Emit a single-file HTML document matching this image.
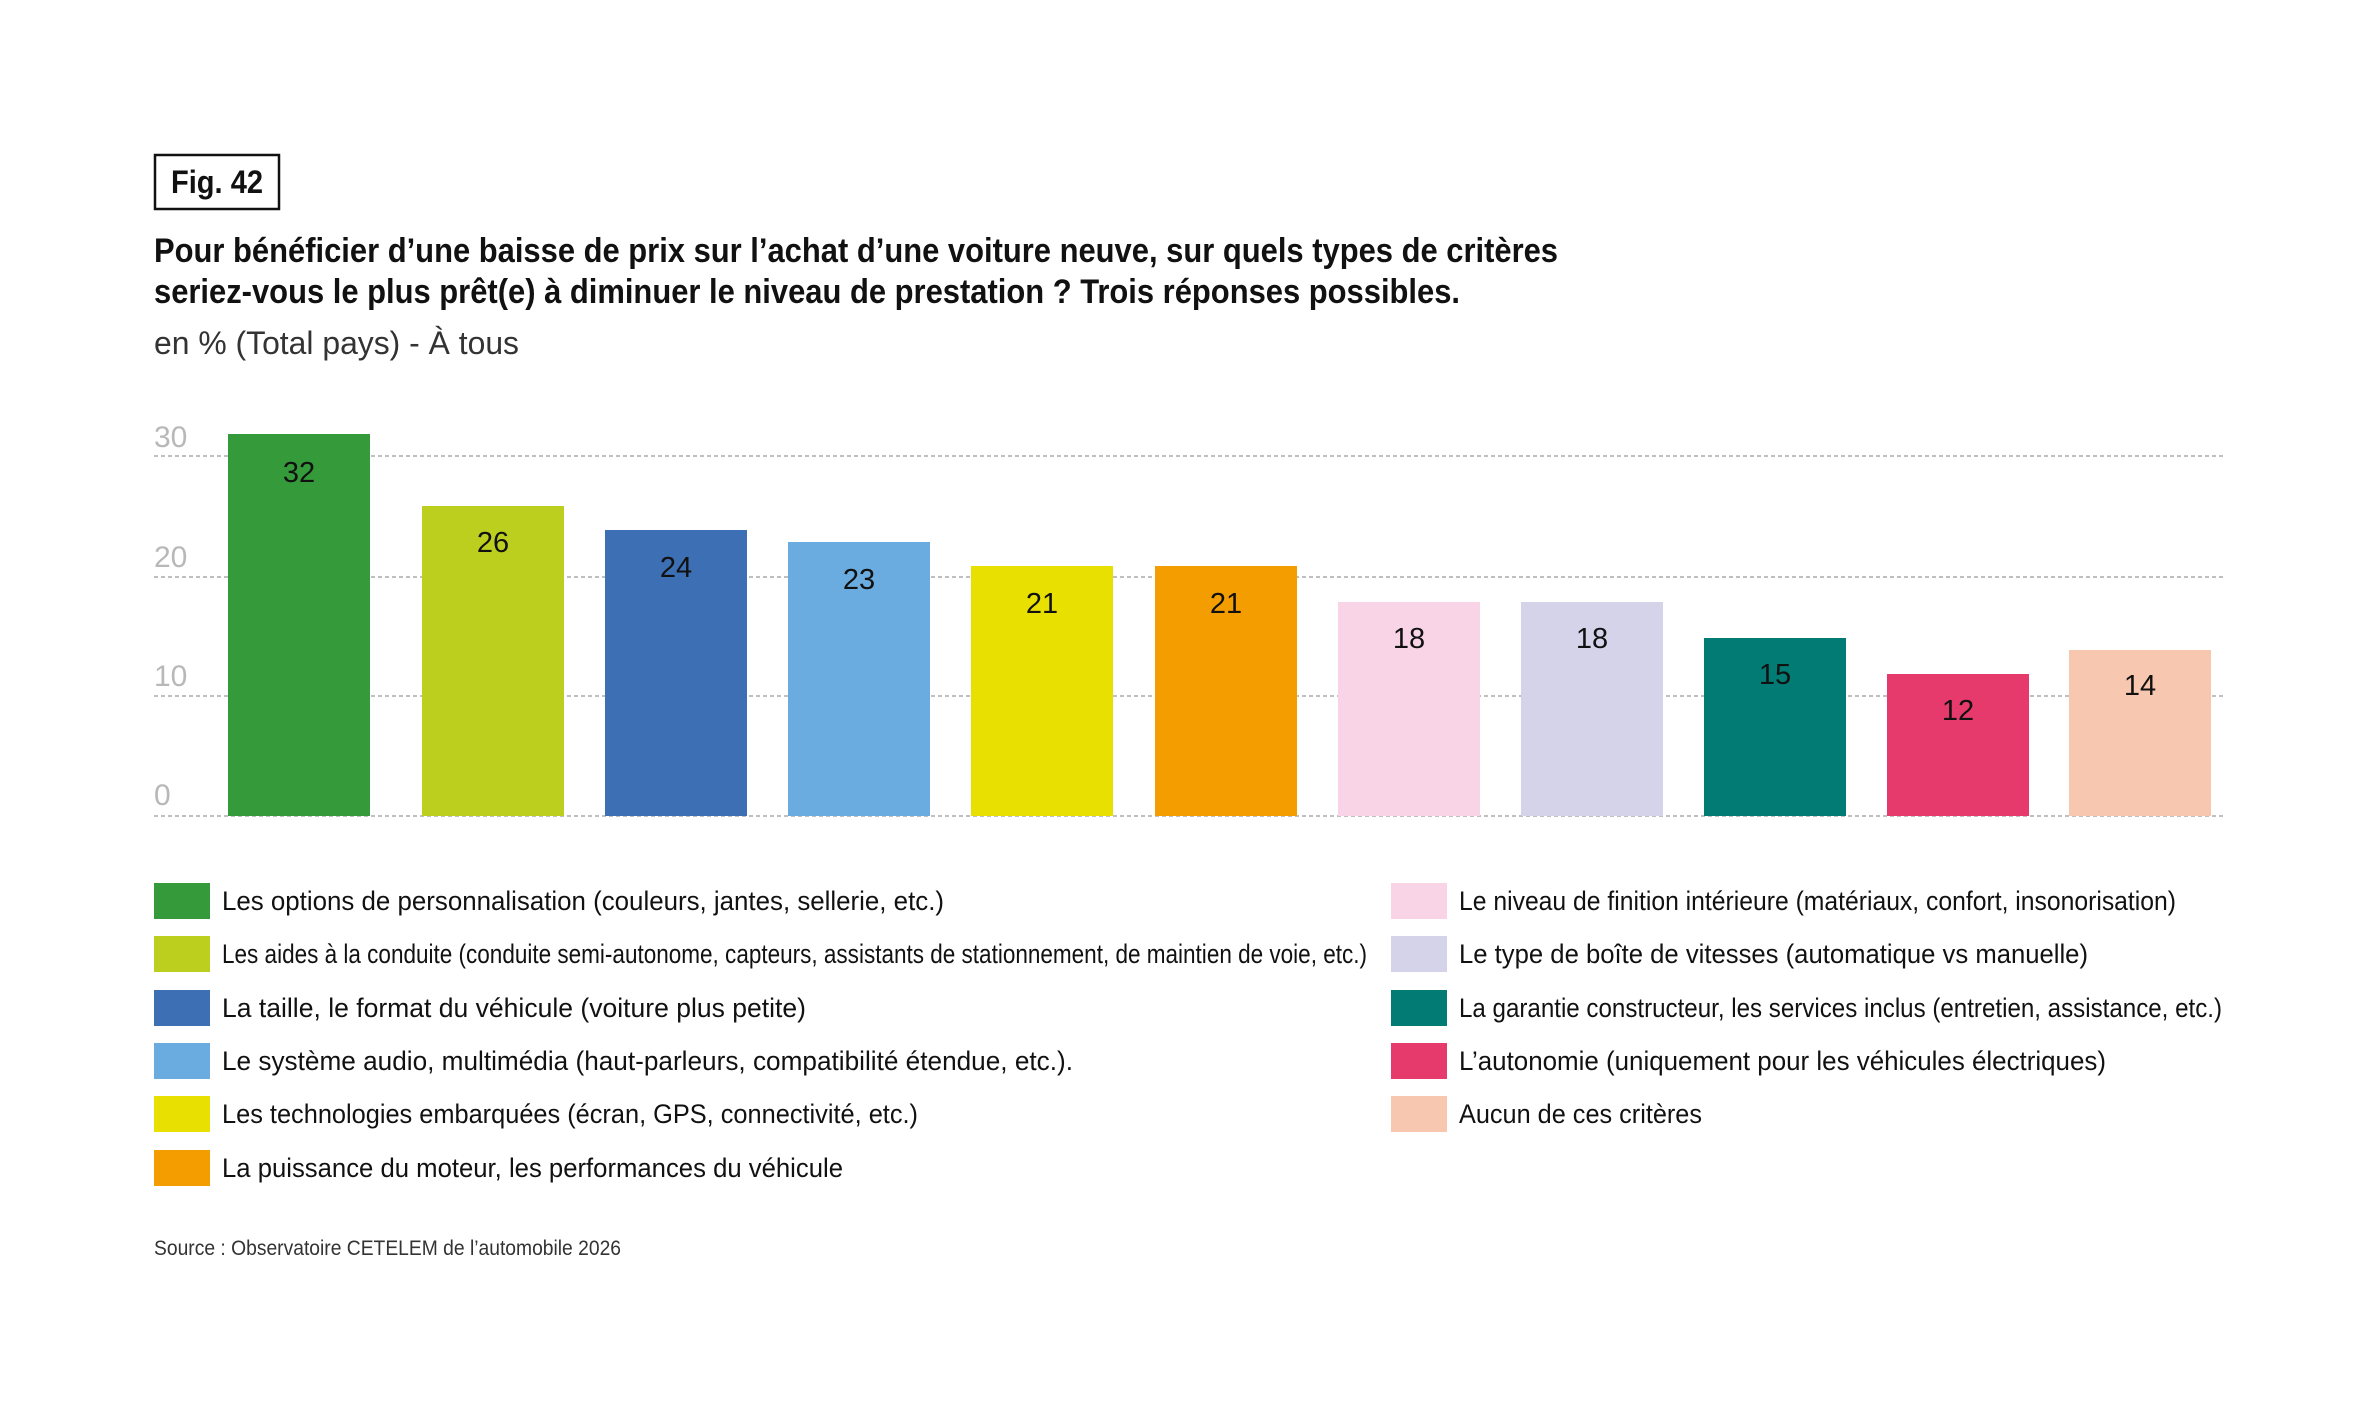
<!DOCTYPE html>
<html><head><meta charset="utf-8"><style>
html,body{margin:0;padding:0;background:#fff;}
svg{display:block;}
text{font-family:"Liberation Sans Narrow","Liberation Sans",sans-serif;}
</style></head><body>
<svg width="2362" height="1417" viewBox="0 0 2362 1417" xmlns="http://www.w3.org/2000/svg">
<rect x="0" y="0" width="2362" height="1417" fill="#fff"/>
<rect x="155" y="155" width="124" height="54" fill="none" stroke="#111" stroke-width="2.5"/>
<text x="171" y="193" font-size="32" font-weight="bold" fill="#111" textLength="92" lengthAdjust="spacingAndGlyphs">Fig. 42</text>
<text x="154" y="262" font-size="34" font-weight="bold" fill="#111" textLength="1404" lengthAdjust="spacingAndGlyphs">Pour bénéficier d’une baisse de prix sur l’achat d’une voiture neuve, sur quels types de critères</text>
<text x="154" y="303" font-size="34" font-weight="bold" fill="#111" textLength="1306" lengthAdjust="spacingAndGlyphs">seriez-vous le plus prêt(e) à diminuer le niveau de prestation ? Trois réponses possibles.</text>
<text x="154" y="354" font-size="32" fill="#333" textLength="365" lengthAdjust="spacingAndGlyphs">en % (Total pays) - À tous</text>
<g transform="translate(0,-3)">
<g stroke="#aaa" stroke-width="1.5" stroke-dasharray="4,3">
<line x1="154" y1="459" x2="2223" y2="459"/>
<line x1="154" y1="580" x2="2223" y2="580"/>
<line x1="154" y1="699" x2="2223" y2="699"/>
<line x1="154" y1="819" x2="2223" y2="819"/>
</g>
<g font-size="30" fill="#b8b8b8">
<text x="154" y="450">30</text>
<text x="154" y="570">20</text>
<text x="154" y="689">10</text>
<text x="154" y="808">0</text>
</g>
<g>
<rect x="228" y="437" width="142" height="382" fill="#359a3a"/>
<rect x="422" y="509" width="142" height="310" fill="#bccf1f"/>
<rect x="605" y="533" width="142" height="286" fill="#3d6fb5"/>
<rect x="788" y="545" width="142" height="274" fill="#6aacdf"/>
<rect x="971" y="569" width="142" height="250" fill="#e8e000"/>
<rect x="1155" y="569" width="142" height="250" fill="#f49d00"/>
<rect x="1338" y="605" width="142" height="214" fill="#f8d4e6"/>
<rect x="1521" y="605" width="142" height="214" fill="#d5d3ea"/>
<rect x="1704" y="641" width="142" height="178" fill="#017b74"/>
<rect x="1887" y="677" width="142" height="142" fill="#e73a6c"/>
<rect x="2069" y="653" width="142" height="166" fill="#f8c7af"/>
</g>
<g font-size="29" fill="#111" text-anchor="middle">
<text x="299" y="485">32</text>
<text x="493" y="555">26</text>
<text x="676" y="580">24</text>
<text x="859" y="592">23</text>
<text x="1042" y="616">21</text>
<text x="1226" y="616">21</text>
<text x="1409" y="651">18</text>
<text x="1592" y="651">18</text>
<text x="1775" y="687">15</text>
<text x="1958" y="723">12</text>
<text x="2140" y="698">14</text>
</g>
</g>
<g>
<rect x="154" y="883" width="56" height="36" fill="#359a3a"/>
<rect x="154" y="936" width="56" height="36" fill="#bccf1f"/>
<rect x="154" y="990" width="56" height="36" fill="#3d6fb5"/>
<rect x="154" y="1043" width="56" height="36" fill="#6aacdf"/>
<rect x="154" y="1096" width="56" height="36" fill="#e8e000"/>
<rect x="154" y="1150" width="56" height="36" fill="#f49d00"/>
<rect x="1391" y="883" width="56" height="36" fill="#f8d4e6"/>
<rect x="1391" y="936" width="56" height="36" fill="#d5d3ea"/>
<rect x="1391" y="990" width="56" height="36" fill="#017b74"/>
<rect x="1391" y="1043" width="56" height="36" fill="#e73a6c"/>
<rect x="1391" y="1096" width="56" height="36" fill="#f8c7af"/>
</g>
<g font-size="27" fill="#111">
<text x="222" y="910" textLength="722" lengthAdjust="spacingAndGlyphs">Les options de personnalisation (couleurs, jantes, sellerie, etc.)</text>
<text x="222" y="963" textLength="1145" lengthAdjust="spacingAndGlyphs">Les aides à la conduite (conduite semi-autonome, capteurs, assistants de stationnement, de maintien de voie, etc.)</text>
<text x="222" y="1017" textLength="584" lengthAdjust="spacingAndGlyphs">La taille, le format du véhicule (voiture plus petite)</text>
<text x="222" y="1070" textLength="851" lengthAdjust="spacingAndGlyphs">Le système audio, multimédia (haut-parleurs, compatibilité étendue, etc.).</text>
<text x="222" y="1123" textLength="696" lengthAdjust="spacingAndGlyphs">Les technologies embarquées (écran, GPS, connectivité, etc.)</text>
<text x="222" y="1177" textLength="621" lengthAdjust="spacingAndGlyphs">La puissance du moteur, les performances du véhicule</text>
<text x="1459" y="910" textLength="717" lengthAdjust="spacingAndGlyphs">Le niveau de finition intérieure (matériaux, confort, insonorisation)</text>
<text x="1459" y="963" textLength="629" lengthAdjust="spacingAndGlyphs">Le type de boîte de vitesses (automatique vs manuelle)</text>
<text x="1459" y="1017" textLength="763" lengthAdjust="spacingAndGlyphs">La garantie constructeur, les services inclus (entretien, assistance, etc.)</text>
<text x="1459" y="1070" textLength="647" lengthAdjust="spacingAndGlyphs">L’autonomie (uniquement pour les véhicules électriques)</text>
<text x="1459" y="1123" textLength="243" lengthAdjust="spacingAndGlyphs">Aucun de ces critères</text>
</g>
<text x="154" y="1255" font-size="21" fill="#333" textLength="467" lengthAdjust="spacingAndGlyphs">Source : Observatoire CETELEM de l’automobile 2026</text>
</svg>
</body></html>
